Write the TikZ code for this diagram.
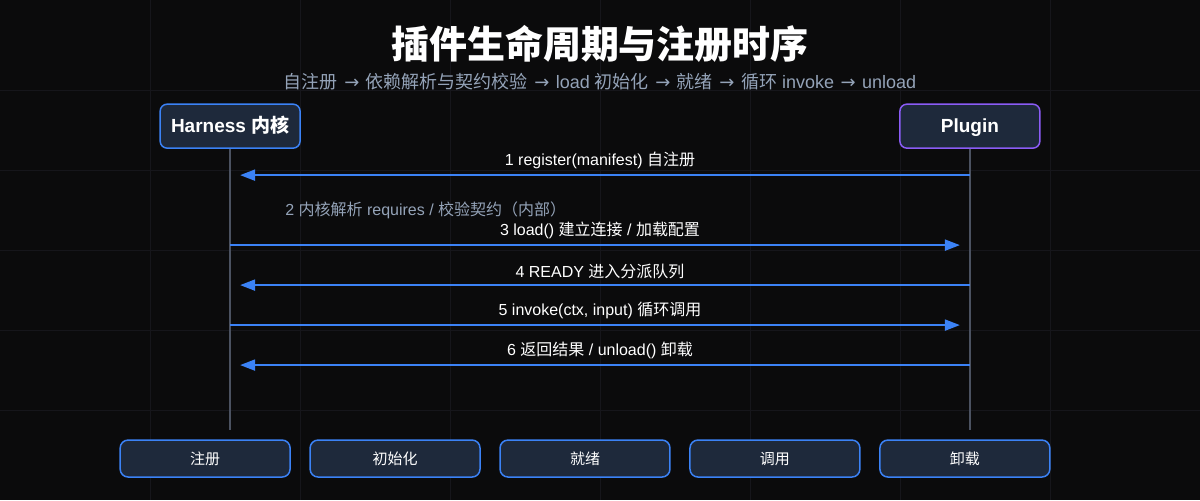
\documentclass[tikz,border=0pt]{standalone}
\usepackage{fontspec}
\setmainfont{Liberation Sans}
\newfontfamily\zhfont{Noto Sans CJK SC}
\newfontfamily\symfont{DejaVu Sans}
\newcommand\zh[1]{{\zhfont #1}}
\newcommand\ar{\hspace{1.5pt}{\symfont →}\hspace{1.5pt}}
\usetikzlibrary{arrows.meta}
\definecolor{bg}{HTML}{0B0B0C}
\definecolor{gridc}{HTML}{16161B}
\definecolor{boxfill}{HTML}{1E293B}
\definecolor{blueline}{HTML}{3B82F6}
\definecolor{purpleline}{HTML}{8B5CF6}
\definecolor{lifec}{HTML}{4B5261}
\definecolor{subc}{HTML}{94A3B8}
\begin{document}
\begin{tikzpicture}[x=1pt,y=-1pt,
	actor/.style={draw=blueline,line width=1.5pt,fill=boxfill,rounded corners=7pt,
		minimum width=140pt,minimum height=44pt,text=white,text height=16pt,text depth=4pt,
		font=\fontsize{19}{21}\selectfont\bfseries},
	phase/.style={draw=blueline,line width=1.5pt,fill=boxfill,rounded corners=8pt,
		minimum width=170pt,minimum height=37pt,text=white,
		font=\fontsize{15}{18}\selectfont\zhfont},
	life/.style={draw=lifec,line width=1.5pt},
	msg/.style={draw=blueline,line width=2pt,-{Triangle[length=15pt,width=11pt]},shorten >=10pt},
	lbl/.style={text=white,font=\fontsize{16}{18}\selectfont}]
	\fill[bg] (0,0) rectangle (1200,500);
	\foreach \x in {150,300,...,1050}
		\draw[gridc] (\x,0) -- (\x,500);
	\foreach \y in {90,170,...,410}
		\draw[gridc] (0,\y) -- (1200,\y);

	\node[text=white,font=\fontsize{38}{42}\selectfont\zhfont\bfseries] (title) at (600,44) {插件生命周期与注册时序};
	\node[text=subc,font=\fontsize{18}{21}\selectfont] (sub) at (600,81)
		{\zh{自注册} \ar{} \zh{依赖解析与契约校验} \ar{} load \zh{初始化} \ar{} \zh{就绪} \ar{} \zh{循环} invoke \ar{} unload};

	\node[actor] (H) at (230,126) {Harness \zh{内核}};
	\node[actor,draw=purpleline] (P) at (970,126) {Plugin};
	\path (230,430) coordinate (He)
		(970,430) coordinate (Pe);
	\draw[life] (H) -- (He);
	\draw[life] (P) -- (Pe);

	\foreach \n/\y in {1/175,3/245,4/285,5/325,6/365}{
		\coordinate (h\n) at (230,\y);
		\coordinate (p\n) at (970,\y);
	}
	\draw[msg] (p1) -- (h1) node[lbl,midway,above=2pt] {1 register(manifest) \zh{自注册}};
	\node[text=subc,font=\fontsize{16}{18}\selectfont,anchor=west,inner sep=0pt] (note2) at (285,210)
		{2 \zh{内核解析} requires / \zh{校验契约（内部）}};
	\draw[msg] (h3) -- (p3) node[lbl,midway,above=2pt] {3 load() \zh{建立连接} / \zh{加载配置}};
	\draw[msg] (p4) -- (h4) node[lbl,midway,above=2pt] {4 READY \zh{进入分派队列}};
	\draw[msg] (h5) -- (p5) node[lbl,midway,above=2pt] {5 invoke(ctx, input) \zh{循环调用}};
	\draw[msg] (p6) -- (h6) node[lbl,midway,above=2pt] {6 \zh{返回结果} / unload() \zh{卸载}};

	\foreach \name/\x/\txt in {reg/205/注册,init/395/初始化,ready/585/就绪,call/775/调用,unload/965/卸载}
		\node[phase] (\name) at (\x,458.5) {\txt};
\end{tikzpicture}
\end{document}
